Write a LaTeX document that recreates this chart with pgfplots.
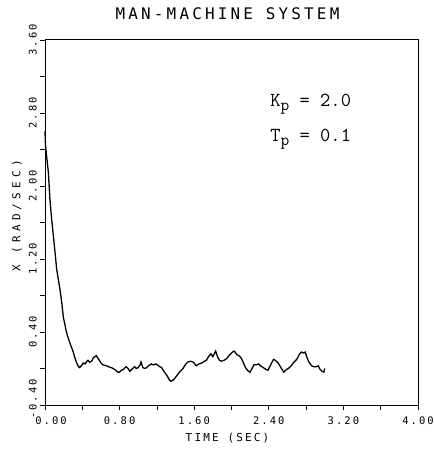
\documentclass[border=0pt]{standalone}
\usepackage{fontspec}
\usepackage{pgfplots}
\pgfplotsset{compat=1.18}
\newfontfamily\plotfont[LetterSpace=20]{DejaVu Sans Mono}
\newfontfamily\plotfontwide[LetterSpace=40]{DejaVu Sans Mono}

\begin{document}
\begin{tikzpicture}
\begin{axis}[
    scale only axis,
    width=373bp,
    height=365bp,
    xmin=0, xmax=4,
    ymin=-0.4, ymax=3.6,
    clip=false,
    axis line style={line width=1pt},
    xtick={0,0.8,1.6,2.4,3.2,4.0},
    xticklabels={\hspace*{12bp}0.00,0.80,1.60,2.40,3.20,4.00},
    minor xtick={0.4,1.2,2.0,2.8,3.6},
    ytick={-0.4,0.4,1.2,2.0,2.8,3.6},
    yticklabels={\hspace*{12bp}-0.40,0.40,1.20,2.00,2.80,3.60},
    minor ytick={0,0.8,1.6,2.4,3.2},
    tick align=outside,
    xtick pos=bottom,
    ytick pos=left,
    major tick length=5bp,
    minor tick length=5bp,
    tick style={black, line width=0.8pt},
    xticklabel style={font=\plotfont\fontsize{10.5}{10.5}\selectfont, anchor=north, inner sep=0pt},
    xticklabel shift=7bp,
    yticklabel style={font=\plotfont\fontsize{10.5}{10.5}\selectfont, rotate=90, anchor=south, inner sep=0pt},
    yticklabel shift=3bp,
]
% response X(t)
\addplot[black, line width=1.3bp] coordinates {
    (0.00,2.60) (0.005,2.45) (0.02,2.30) (0.036,2.15) (0.053,1.85) (0.07,1.65)
    (0.09,1.45) (0.11,1.25) (0.125,1.09) (0.16,0.87) (0.18,0.72) (0.197,0.56)
    (0.23,0.40) (0.25,0.33) (0.27,0.27) (0.30,0.19) (0.32,0.12) (0.34,0.06)
    (0.36,0.02) (0.37,0.01) (0.39,0.03) (0.41,0.06) (0.43,0.05) (0.45,0.08)
    (0.46,0.09) (0.48,0.07) (0.50,0.08) (0.52,0.12) (0.55,0.14) (0.57,0.11)
    (0.60,0.06) (0.62,0.04) (0.66,0.03) (0.68,0.02) (0.71,0.01) (0.73,0.00)
    (0.76,-0.02) (0.78,-0.04) (0.80,-0.04) (0.82,-0.02) (0.84,-0.01) (0.87,0.02)
    (0.89,0.00) (0.91,-0.03) (0.94,0.00) (0.96,0.02) (0.98,0.00) (1.00,0.01)
    (1.02,0.04) (1.03,0.07) (1.05,0.01) (1.07,0.00) (1.09,0.01) (1.11,0.03)
    (1.14,0.05) (1.16,0.04) (1.19,0.05) (1.21,0.035) (1.23,0.02) (1.25,0.01)
    (1.28,-0.04) (1.31,-0.08) (1.33,-0.12) (1.35,-0.14) (1.37,-0.13) (1.39,-0.11)
    (1.42,-0.07) (1.45,-0.03) (1.48,0.00) (1.51,0.05) (1.53,0.07) (1.56,0.08)
    (1.59,0.07) (1.62,0.03) (1.65,0.05) (1.68,0.06) (1.71,0.08) (1.73,0.09)
    (1.76,0.14) (1.78,0.16) (1.80,0.13) (1.83,0.19) (1.85,0.13) (1.87,0.09)
    (1.89,0.08) (1.92,0.09) (1.95,0.11) (1.98,0.15) (2.01,0.18) (2.03,0.19)
    (2.06,0.15) (2.08,0.14) (2.10,0.12) (2.12,0.08) (2.15,0.01) (2.18,-0.03)
    (2.20,-0.04) (2.22,0.00) (2.24,0.04) (2.27,0.04) (2.29,0.05) (2.31,0.03)
    (2.34,0.01) (2.37,-0.01) (2.39,-0.02) (2.42,0.04) (2.45,0.10) (2.47,0.09)
    (2.50,0.06) (2.53,0.01) (2.56,-0.04) (2.59,-0.01) (2.61,0.00) (2.64,0.03)
    (2.67,0.07) (2.70,0.10) (2.73,0.16) (2.75,0.18) (2.77,0.17) (2.79,0.18)
    (2.81,0.12) (2.83,0.07) (2.86,0.03) (2.88,0.02) (2.91,0.02) (2.93,0.03)
    (2.95,-0.01) (2.97,-0.03) (2.99,-0.04) (3.00,0.00)
};
% labels
\node[font=\plotfont\fontsize{16}{16}\selectfont, anchor=base]
    at ([shift={(-4bp,20bp)}]rel axis cs:0.5,1) {MAN-MACHINE SYSTEM};
\node[font=\plotfont\fontsize{11}{11}\selectfont, anchor=base]
    at ([shift={(-4bp,-36bp)}]rel axis cs:0.5,0) {TIME (SEC)};
\node[font=\plotfontwide\fontsize{11}{11}\selectfont, rotate=90, anchor=center]
    at ([shift={(-28bp,7bp)}]rel axis cs:0,0.5) {X (RAD/SEC)};
\node[font=\ttfamily\fontsize{20}{20}\selectfont, anchor=base west]
    at (axis cs:2.38,2.87) {K\raisebox{-0.45ex}{\fontsize{17}{17}\selectfont p} = 2.0};
\node[font=\ttfamily\fontsize{20}{20}\selectfont, anchor=base west]
    at (axis cs:2.38,2.485) {T\raisebox{-0.45ex}{\fontsize{17}{17}\selectfont p} = 0.1};
\coordinate (SW) at (rel axis cs:0,0);
\coordinate (NE) at (rel axis cs:1,1);
\end{axis}
\path ([shift={(-45bp,-44bp)}]SW) rectangle ([shift={(8bp,40bp)}]NE);
\end{tikzpicture}
\end{document}
